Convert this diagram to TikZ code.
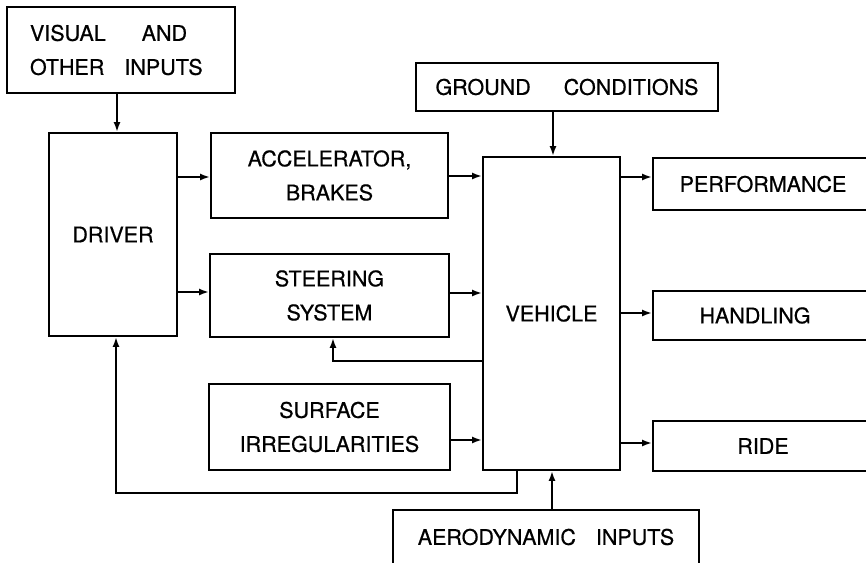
\documentclass[tikz,border=0pt]{standalone}
\usepackage{fontspec}
\setmainfont{TeX Gyre Heros}
\newfontfamily\boxfont[FakeBold=0.6]{TeX Gyre Heros}
\usetikzlibrary{arrows.meta}
\begin{document}
\begin{tikzpicture}[x=1pt,y=-1pt,
  box/.style={draw,line width=1.9pt,inner sep=0pt,align=center,
    font=\boxfont\fontsize{21.5}{34}\selectfont},
  arr/.style={line width=1.9pt,-{Latex[length=10pt,width=7pt]}}]
\useasboundingbox (0,0) rectangle (866,562);
\clip (0,0) rectangle (866,562);
\node[box,minimum width=228pt,minimum height=86pt,align=left,text width=182pt] (visual) at (121,50)
  {VISUAL\hspace{36pt}AND\\OTHER\hspace{20pt}INPUTS};
\node[box,minimum width=128pt,minimum height=203pt] (driver) at (113,234.5) {DRIVER};
\node[box,minimum width=237pt,minimum height=85pt] (accel) at (329.5,175.5) {ACCELERATOR,\\BRAKES};
\node[box,minimum width=239pt,minimum height=83pt] (steer) at (329.5,295.5) {STEERING\\SYSTEM};
\node[box,minimum width=241pt,minimum height=86pt] (surf) at (329.5,427) {SURFACE\\IRREGULARITIES};
\node[box,minimum width=137pt,minimum height=313pt] (vehicle) at (551.5,313.5) {VEHICLE};
\node[box,minimum width=302pt,minimum height=48pt] (ground) at (567,87) {GROUND\hspace{33pt}CONDITIONS};
\node[box,minimum width=220pt,minimum height=52pt] (perf) at (763,184) {PERFORMANCE};
\node[box,minimum width=220pt,minimum height=49pt] (hand) at (763,315.5) {HANDLING\hspace{16pt}};
\node[box,minimum width=220pt,minimum height=50pt] (ride) at (763,446) {RIDE};
\node[box,minimum width=306pt,minimum height=54pt] (aero) at (546,537) {AERODYNAMIC\hspace{20pt}INPUTS};
% arrows
\draw[arr] (visual.south -| 117,0) -- (driver.north -| 117,0);
\draw[arr] (driver.east |- 0,177) -- (accel.west |- 0,177);
\draw[arr] (driver.east |- 0,292) -- (steer.west |- 0,292);
\draw[arr] (accel.east |- 0,176) -- (vehicle.west |- 0,176);
\draw[arr] (steer.east |- 0,293) -- (vehicle.west |- 0,293);
\draw[arr] (surf.east |- 0,440) -- (vehicle.west |- 0,440);
\draw[arr] (ground.south -| 553,0) -- (vehicle.north -| 553,0);
\draw[arr] (aero.north -| 552,0) -- (vehicle.south -| 552,0);
\draw[arr] (vehicle.east |- 0,177) -- (perf.west |- 0,177);
\draw[arr] (vehicle.east |- 0,313) -- (hand.west |- 0,313);
\draw[arr] (vehicle.east |- 0,443) -- (ride.west |- 0,443);
\coordinate (fbA) at (333,361);
\coordinate (fbB) at (116,493);
\draw[arr] (vehicle.west |- fbA) -| (steer.south -| fbA);
\draw[arr] (vehicle.south -| 517,0) |- (fbB) -- (driver.south -| fbB);
\end{tikzpicture}
\end{document}
